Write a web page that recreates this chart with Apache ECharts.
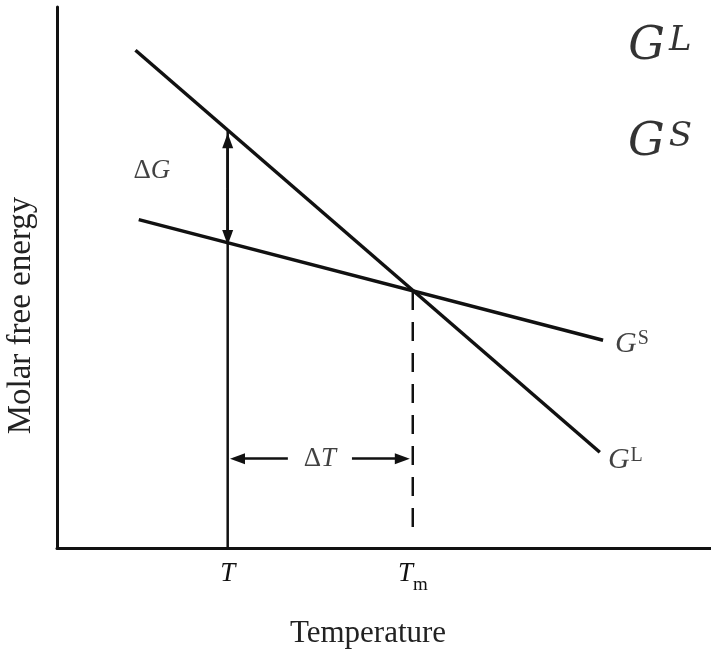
<!DOCTYPE html>
<html>
<head>
<meta charset="utf-8">
<script src="https://cdn.jsdelivr.net/npm/echarts@6/dist/echarts.min.js"></script>
<style>
  html, body { margin: 0; padding: 0; background: #fff; }
  #chart { width: 711px; height: 649px; }
</style>
</head>
<body>
<div id="chart"></div>
<script>
// arbitrary units, 0..100 on both axes
var tempRange = [0, 100];
var energyRange = [0, 100];

var liquidLine = [[12, 92], [83, 17.7]];     // G^L
var solidLine = [[12.5, 60.7], [83.5, 38.4]]; // G^S

var tUnder = 26.1;   // T
var tMelt = 54.4;    // Tm
var gLiquidAtT = 77.2;
var gAtTm = 47.5;
var dashBottom = 3.3;

// arrow segments (tail -> head)
var dGUp = [66.5, 75.3];
var dGDown = [66.5, 57.4];
var dTy = 16.5;
var dTLeft = [35.3, 27.6];
var dTRight = [45.1, 52.8];

var tickValues = [tUnder, tMelt];

// text annotations: [x, y, text]
var annotations = [
	[40.2, dTy, '{d|Δ}{i|T}'],
	[14.5, 69.7, '{d|Δ}{i|G}'],
	[87.9, 37.7, '{i|G}{p|S}'],
	[86.9, 16.2, '{i|G}{p|L}']
];
var bigLabels = [
	[92.2, 92.6, '{i|G}{u|L}'],
	[92.2, 74.9, '{i|G}{u|S}']
];

var serif = '"Liberation Serif", "DejaVu Serif", serif';
var mathFont = '"DejaVu Serif", serif';
var ink = '#111';

function rich(size, supSize, font, color) {
	font = font || serif;
	color = color || ink;
	return {
		i: { fontFamily: font, fontStyle: 'italic', fontSize: size, color: color, lineHeight: size },
		d: { fontFamily: font, fontSize: size, color: color, lineHeight: size },
		u: { fontFamily: font, fontStyle: 'italic', fontSize: supSize, color: color, verticalAlign: 'top', lineHeight: size, padding: [0, 0, 0, 4] },
		s: { fontFamily: font, fontSize: supSize, color: color, verticalAlign: 'bottom', lineHeight: size, padding: [0, 0, -8, 0] },
		p: { fontFamily: font, fontSize: supSize, color: color, verticalAlign: 'top', lineHeight: size, padding: [0, 0, 0, 1] }
	};
}

var chart = echarts.init(document.getElementById('chart'));

var option = {
	backgroundColor: '#fff',
	animation: false,
	grid: { left: 57, right: 0, top: 7, bottom: 101, outerBoundsMode: 'none' },
	xAxis: {
		type: 'value',
		min: tempRange[0],
		max: tempRange[1],
		axisLine: { show: true, lineStyle: { color: ink, width: 3 } },
		axisTick: { show: false },
		splitLine: { show: false },
		axisLabel: {
			show: true,
			customValues: tickValues,
			margin: 12,
			formatter: function (v) {
				return v === tUnder ? '{i|T}' : '{i|T}{s|m}';
			},
			rich: rich(27, 19)
		},
		name: 'Temperature',
		nameLocation: 'middle',
		nameGap: 70,
		nameTextStyle: { fontFamily: serif, fontSize: 31, color: '#222', padding: [0, 32, 0, 0] }
	},
	yAxis: {
		type: 'value',
		min: energyRange[0],
		max: energyRange[1],
		axisLine: { show: true, lineStyle: { color: ink, width: 3 } },
		axisTick: { show: false },
		axisLabel: { show: false },
		splitLine: { show: false },
		name: 'Molar free energy',
		nameLocation: 'middle',
		nameGap: 19,
		nameTextStyle: { fontFamily: serif, fontSize: 33, color: '#222', padding: [0, 76, 0, 0] }
	},
	series: [
		{
			name: 'GL',
			type: 'line',
			symbol: 'none',
			lineStyle: { color: ink, width: 3.5 },
			data: liquidLine
		},
		{
			name: 'GS',
			type: 'line',
			symbol: 'none',
			lineStyle: { color: ink, width: 3.5 },
			data: solidLine
		},
		{
			name: 'T',
			type: 'line',
			symbol: 'none',
			lineStyle: { color: ink, width: 2.5 },
			data: [[tUnder, 0], [tUnder, gLiquidAtT]],
			markLine: {
				silent: true,
				symbol: ['none', 'triangle'],
				symbolSize: [11, 15],
				label: { show: false },
				lineStyle: { color: ink, width: 2.5, type: 'solid' },
				data: [
					[{ coord: [tUnder, dGUp[0]] }, { coord: [tUnder, dGUp[1]] }],
					[{ coord: [tUnder, dGDown[0]] }, { coord: [tUnder, dGDown[1]] }],
					[{ coord: [dTLeft[0], dTy] }, { coord: [dTLeft[1], dTy] }],
					[{ coord: [dTRight[0], dTy] }, { coord: [dTRight[1], dTy] }]
				]
			}
		},
		{
			name: 'Tm',
			type: 'line',
			symbol: 'none',
			lineStyle: { color: ink, width: 2.5, type: [19, 12] },
			data: [[tMelt, gAtTm], [tMelt, dashBottom]]
		},
		{
			name: 'labels',
			type: 'scatter',
			symbolSize: 0,
			silent: true,
			label: { show: true, position: 'inside' },
			data: annotations.map(function (a, k) {
				var size = k < 2 ? 27 : 30;
				return { value: [a[0], a[1]], label: { formatter: a[2], rich: rich(size, 20) } };
			}).concat(bigLabels.map(function (a) {
				return { value: [a[0], a[1]], label: { formatter: a[2], rich: rich(46, 34, mathFont, '#000') } };
			}))
		}
	]
};

chart.setOption(option);
</script>
</body>
</html>
